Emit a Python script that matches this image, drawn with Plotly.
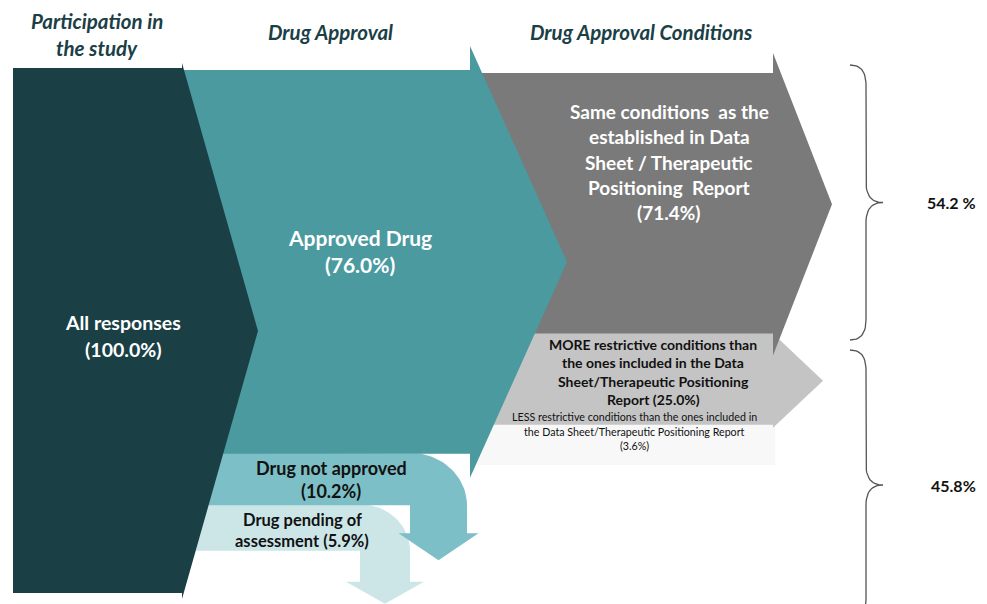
import numpy as np
import plotly.graph_objects as go

# ---------------- data ----------------
stage_titles = [["Participation in", "the study"], ["Drug Approval"], ["Drug Approval Conditions"]]
participation_labels = [["All responses"]]
participation_values = [100.0]
approval_labels = [["Approved Drug"], ["Drug not approved"], ["Drug pending of", "assessment"]]
approval_values = [76.0, 10.2, 5.9]
approval_pct_newline = [True, True, False]
condition_labels = [
    ["Same conditions  as the", "established in Data", "Sheet / Therapeutic", "Positioning  Report"],
    ["MORE restrictive conditions than", "the ones included in the Data",
     "Sheet/Therapeutic Positioning", "Report"],
    ["LESS restrictive conditions than the ones included in",
     "the Data Sheet/Therapeutic Positioning Report"],
]
condition_values = [71.4, 25.0, 3.6]
condition_pct_newline = [True, False, True]
group_labels = ["54.2 %", "45.8%"]

# ---------------- style / layout constants ----------------
W, H = 987, 604
PAGE_OFF = 8          # default body margin of the html page
FONT = "Lato"
C_DARK = "#1a4046"
C_TEAL = "#4a9aa0"
C_NOT = "#7dbfc6"
C_PEND = "#cce6e8"
C_GRAY = "#7a7a7a"
C_LGRAY = "#c4c4c4"
C_LESS = "#f8f8f8"
TITLE_C = "#1a4046"

X_L, X1, TIP1 = 13, 182, 258
X2, TIP2 = 470, 567
X3, TIP3, TIP3B = 773, 832, 823
Y1, PX1 = 68, 5.25
Y2, PX2, MIN2 = 70, 5.05, 9.0
Y3, PX3, MIN3 = 73, 3.65, 11.0

fig = go.Figure()


def poly(xs, ys, color):
    fig.add_trace(go.Scatter(x=list(xs), y=list(ys), fill="toself", fillcolor=color,
                             mode="lines", line=dict(width=0, color=color),
                             hoverinfo="skip", showlegend=False))


def text_lines(lines, x, yc, size, color, spacing, bold=True, italic=False):
    n = len(lines)
    for i, ln in enumerate(lines):
        t = ln
        if bold:
            t = "<b>" + t + "</b>"
        if italic:
            t = "<i>" + t + "</i>"
        fig.add_annotation(x=x, y=yc + (i - (n - 1) / 2) * spacing, text=t, showarrow=False,
                           xref="x", yref="y", xanchor="center", yanchor="middle",
                           font=dict(family=FONT, size=size, color=color))


def with_pct(lines, v, newline):
    lines = list(lines)
    if newline:
        lines.append("({:.1f}%)".format(v))
    else:
        lines[-1] = lines[-1] + " ({:.1f}%)".format(v)
    return lines


def bent_arrow(x_start, yt, yb, xi, width, shaft_len, head_half, head_len, color):
    t = np.linspace(0, np.pi / 2, 30)
    ry = yb - yt
    arc_x = xi + width * np.sin(t)
    arc_y = yb - ry * np.cos(t)
    xc = xi + width / 2
    ys_end = yb + shaft_len
    xs = [x_start, xi] + list(arc_x) + [xi + width, xc + head_half, xc, xc - head_half, xi, xi, x_start]
    ys = [yt, yt] + list(arc_y) + [ys_end, ys_end, ys_end + head_len, ys_end, ys_end, yb, yb]
    poly(xs, ys, color)


# ---------------- column 3: conditions ----------------
h3 = [max(v, MIN3) * PX3 for v in condition_values]
e3 = np.concatenate([[Y3], Y3 + np.cumsum(h3)])

poly([X2, 775, 775, X2], [e3[2] - 1, e3[2] - 1, e3[3], e3[3]], C_LESS)
mid = (e3[1] + e3[2] + 3) / 2
poly([X2, X3, X3, TIP3B, X3, X3, X2],
     [e3[1] - 1, e3[1] - 1, e3[1], mid, e3[2] + 3, e3[2], e3[2]], C_LGRAY)
top_h, bot_h = e3[0] - 20, e3[1] + 22
poly([X2, X3, X3, TIP3, X3, X3, X2],
     [e3[0], e3[0], top_h, (top_h + bot_h) / 2, bot_h, e3[1], e3[1]], C_GRAY)

# ---------------- column 2: approval ----------------
h2 = [max(v, MIN2) * PX2 for v in approval_values]
e2 = np.concatenate([[Y2], Y2 + np.cumsum(h2)])

bent_arrow(X1, e2[2] - 1, e2[3], 360, 50, 31, 39, 22, C_PEND)
bent_arrow(X1, e2[1] - 1, e2[2], 410, 57, 28, 40, 27, C_NOT)
top_h, bot_h = Y2 - 24, e2[1] + 24
poly([X1, X2, X2, TIP2, X2, X2, X1],
     [e2[0], e2[0], top_h, (top_h + bot_h) / 2, bot_h, e2[1], e2[1]], C_TEAL)

# ---------------- column 1: participation ----------------
y1b = Y1 + participation_values[0] * PX1
top_h, bot_h = Y1 - 5, y1b + 6
poly([X_L, X1, X1, TIP1, X1, X1, X_L],
     [Y1, Y1, top_h, (top_h + bot_h) / 2, bot_h, y1b, y1b], C_DARK)


# ---------------- braces ----------------
def brace(y0, y1, x_tip=850, x_spine=866, x_pt=883, r=20):
    ym = (y0 + y1) / 2
    s = np.linspace(0, 1, 15)

    def qb(p0, p1, p2):
        return ((1 - s) ** 2 * p0[0] + 2 * (1 - s) * s * p1[0] + s ** 2 * p2[0],
                (1 - s) ** 2 * p0[1] + 2 * (1 - s) * s * p1[1] + s ** 2 * p2[1])
    segs = [qb((x_tip, y0), (x_spine, y0), (x_spine, y0 + r)),
            qb((x_spine, ym - r), (x_spine, ym), (x_pt, ym)),
            qb((x_pt, ym), (x_spine, ym), (x_spine, ym + r)),
            qb((x_spine, y1 - r), (x_spine, y1), (x_tip, y1))]
    xs = np.concatenate([sg[0] for sg in segs])
    ys = np.concatenate([sg[1] for sg in segs])
    fig.add_trace(go.Scatter(x=xs, y=ys, mode="lines", line=dict(color="#555555", width=1.3),
                             hoverinfo="skip", showlegend=False))
    return ym


brace_spans = [(65, 340), (350, 620)]
group_y = [brace(a, b) for a, b in brace_spans]
for lab, yy, xx in zip(group_labels, group_y, [951, 953]):
    text_lines([lab], xx, yy, 16, "#111111", 18)

# ---------------- texts ----------------
title_pos = [(97, 34), (330, 32), (641, 32)]
for lines, (xx, yy) in zip(stage_titles, title_pos):
    text_lines(lines, xx, yy, 20.5, TITLE_C, 27, bold=True, italic=True)

text_lines(with_pct(participation_labels[0], participation_values[0], True), 123, 336, 19.5, "white", 27)

approval_pos = [(360, 251, 21, "white", 27), (331, 479, 18, "#111111", 23), (302, 530, 16.5, "#111111", 21)]
for lines, v, nl, (xx, yy, sz, col, sp) in zip(approval_labels, approval_values, approval_pct_newline, approval_pos):
    text_lines(with_pct(lines, v, nl), xx, yy, sz, col, sp)

condition_pos = [(669, 162, 19, "white", 25.3, True), (653, 372, 14, "#111111", 18.5, True),
                 (634, 431, 10.7, "#111111", 14.5, False)]
for lines, v, nl, (xx, yy, sz, col, sp, b) in zip(condition_labels, condition_values, condition_pct_newline, condition_pos):
    text_lines(with_pct(lines, v, nl), xx, yy, sz, col, sp, bold=b)

fig.update_layout(
    width=W - PAGE_OFF, height=H - PAGE_OFF, margin=dict(l=0, r=0, t=0, b=0),
    paper_bgcolor="white", plot_bgcolor="white",
    xaxis=dict(range=[PAGE_OFF, W], visible=False, fixedrange=True),
    yaxis=dict(range=[H, PAGE_OFF], visible=False, fixedrange=True),
    showlegend=False,
)
fig.write_html("out.html")
